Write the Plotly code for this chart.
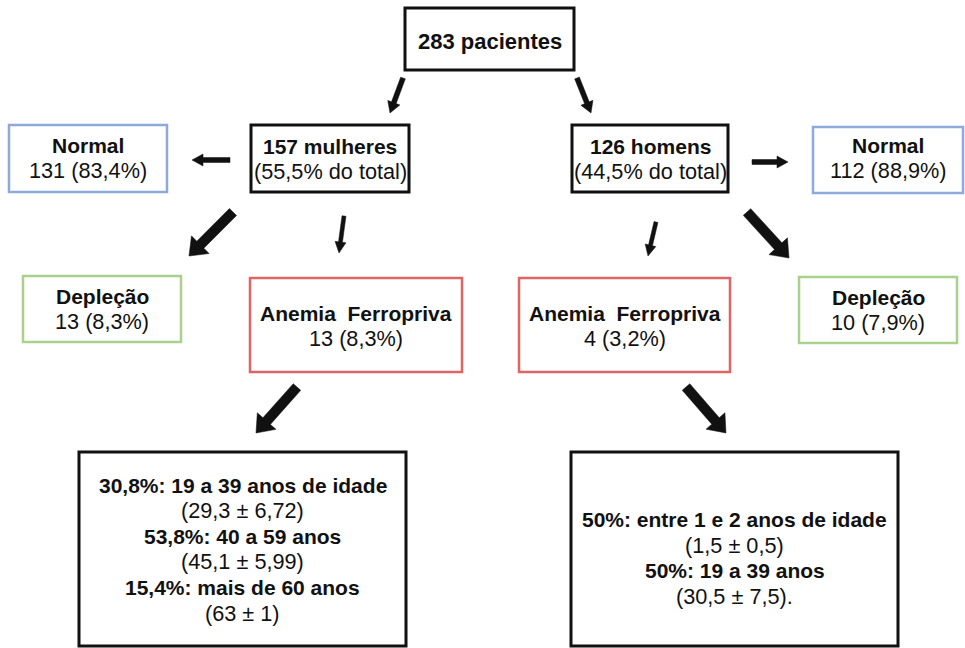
import math
import plotly.graph_objects as go

# ---------------- data ----------------
total_label = "283 pacientes"
sex_titles = ["157 mulheres", "126 homens"]
sex_subtitles = ["(55,5% do total)", "(44,5% do total)"]
normal_values = ["131 (83,4%)", "112 (88,9%)"]
deplecao_values = ["13 (8,3%)", "10 (7,9%)"]
anemia_values = ["13 (8,3%)", "4 (3,2%)"]
women_age_lines = ["30,8%: 19 a 39 anos de idade", "(29,3 ± 6,72)",
                   "53,8%: 40 a 59 anos", "(45,1 ± 5,99)",
                   "15,4%: mais de 60 anos", "(63 ± 1)"]
women_age_bold = [True, False, True, False, True, False]
men_age_lines = ["50%: entre 1 e 2 anos de idade", "(1,5 ± 0,5)",
                 "50%: 19 a 39 anos", "(30,5 ± 7,5)."]
men_age_bold = [True, False, True, False]

# ---------------- layout (pixel geometry) ----------------
W, H = 965, 648
BLACK = "#111111"
BLUE = "#8eaadb"
GREEN = "#a9d18e"
RED = "#e06666"
FONT = "Liberation Sans, Arial, sans-serif"
REG_SIZE = 21.7

# box: (x0, y0, x1, y1, colour, line width, text centre y, lines, bold flags, bold font size)
boxes = [
    (405, 8, 574, 70, BLACK, 3, 41, [total_label], [True], 22),
    (251, 125, 409, 192, BLACK, 3, 159, [sex_titles[0], sex_subtitles[0]], [True, False], 21),
    (572, 125, 728, 192, BLACK, 3, 159, [sex_titles[1], sex_subtitles[1]], [True, False], 21),
    (9, 125, 167, 192, BLUE, 2.5, 158, ["Normal", normal_values[0]], [True, False], 21),
    (813, 127, 963, 193, BLUE, 2.5, 158, ["Normal", normal_values[1]], [True, False], 21),
    (23, 276, 181, 342, GREEN, 2.5, 309, ["Depleção", deplecao_values[0]], [True, False], 21),
    (799, 277, 957, 343, GREEN, 2.5, 310, ["Depleção", deplecao_values[1]], [True, False], 21),
    (250, 278, 462, 372, RED, 2.5, 326, ["Anemia  Ferropriva", anemia_values[0]], [True, False], 21),
    (519, 278, 730, 372, RED, 2.5, 326, ["Anemia  Ferropriva", anemia_values[1]], [True, False], 21),
    (79, 452, 406, 646, BLACK, 3, 549, women_age_lines, women_age_bold, 21),
    (571, 452, 898, 646, BLACK, 3, 558, men_age_lines, men_age_bold, 21),
]
LINE_STEP = 25.6

# arrows: (tail x, tail y, tip x, tip y, shaft width, head width, head length)
arrows = [
    (403, 78, 390, 113, 5, 13, 11),
    (577, 78, 591, 113, 5, 13, 11),
    (230, 160, 192, 160, 5, 12, 11),
    (233, 212, 189, 256, 10, 25, 16),
    (344, 216, 339, 253, 4, 11, 11),
    (752, 162, 788, 162, 5, 12, 11),
    (656, 222, 648, 256, 4, 11, 11),
    (747, 212, 789, 258, 10, 25, 16),
    (297, 387, 256, 433, 10, 25, 16),
    (686, 387, 726, 433, 10, 25, 16),
]


def arrow_path(x0, y0, x1, y1, w, hw, hl):
    dx, dy = x1 - x0, y1 - y0
    L = math.hypot(dx, dy)
    ux, uy = dx / L, dy / L
    nx, ny = -uy, ux
    bx, by = x1 - ux * hl, y1 - uy * hl
    pts = [
        (x0 + nx * w / 2, y0 + ny * w / 2),
        (bx + nx * w / 2, by + ny * w / 2),
        (bx + nx * hw / 2, by + ny * hw / 2),
        (x1, y1),
        (bx - nx * hw / 2, by - ny * hw / 2),
        (bx - nx * w / 2, by - ny * w / 2),
        (x0 - nx * w / 2, y0 - ny * w / 2),
    ]
    return "M " + " L ".join(f"{px:.2f},{py:.2f}" for px, py in pts) + " Z"


fig = go.Figure()
fig.add_trace(go.Scatter(x=[0, W], y=[0, H], mode="markers",
                         marker=dict(opacity=0), hoverinfo="skip", showlegend=False))

shapes = []
annotations = []
for (x0, y0, x1, y1, col, lw, cy, lines, bolds, fs) in boxes:
    shapes.append(dict(type="rect", xref="x", yref="y", x0=x0, y0=y0, x1=x1, y1=y1,
                       line=dict(color=col, width=lw), fillcolor="white", layer="above"))
    n = len(lines)
    cx = (x0 + x1) / 2
    for i, (txt, b) in enumerate(zip(lines, bolds)):
        ty = cy + (i - (n - 1) / 2) * LINE_STEP
        annotations.append(dict(x=cx, y=ty, xref="x", yref="y", showarrow=False,
                                text=f"<b>{txt}</b>" if b else txt,
                                font=dict(family=FONT, size=fs if b else REG_SIZE, color=BLACK),
                                xanchor="center", yanchor="middle"))

for a in arrows:
    shapes.append(dict(type="path", xref="x", yref="y", path=arrow_path(*a),
                       fillcolor=BLACK, line=dict(color=BLACK, width=0.5), layer="above"))

fig.update_layout(
    width=W, height=H,
    margin=dict(l=0, r=0, t=0, b=0),
    paper_bgcolor="white", plot_bgcolor="white",
    xaxis=dict(range=[0, W], visible=False, fixedrange=True),
    yaxis=dict(range=[H, 0], visible=False, fixedrange=True),
    shapes=shapes, annotations=annotations, showlegend=False,
)

fig.write_html("out.html", config={"displayModeBar": False},
               post_script="document.body.style.margin='0';document.body.style.overflow='hidden';")
